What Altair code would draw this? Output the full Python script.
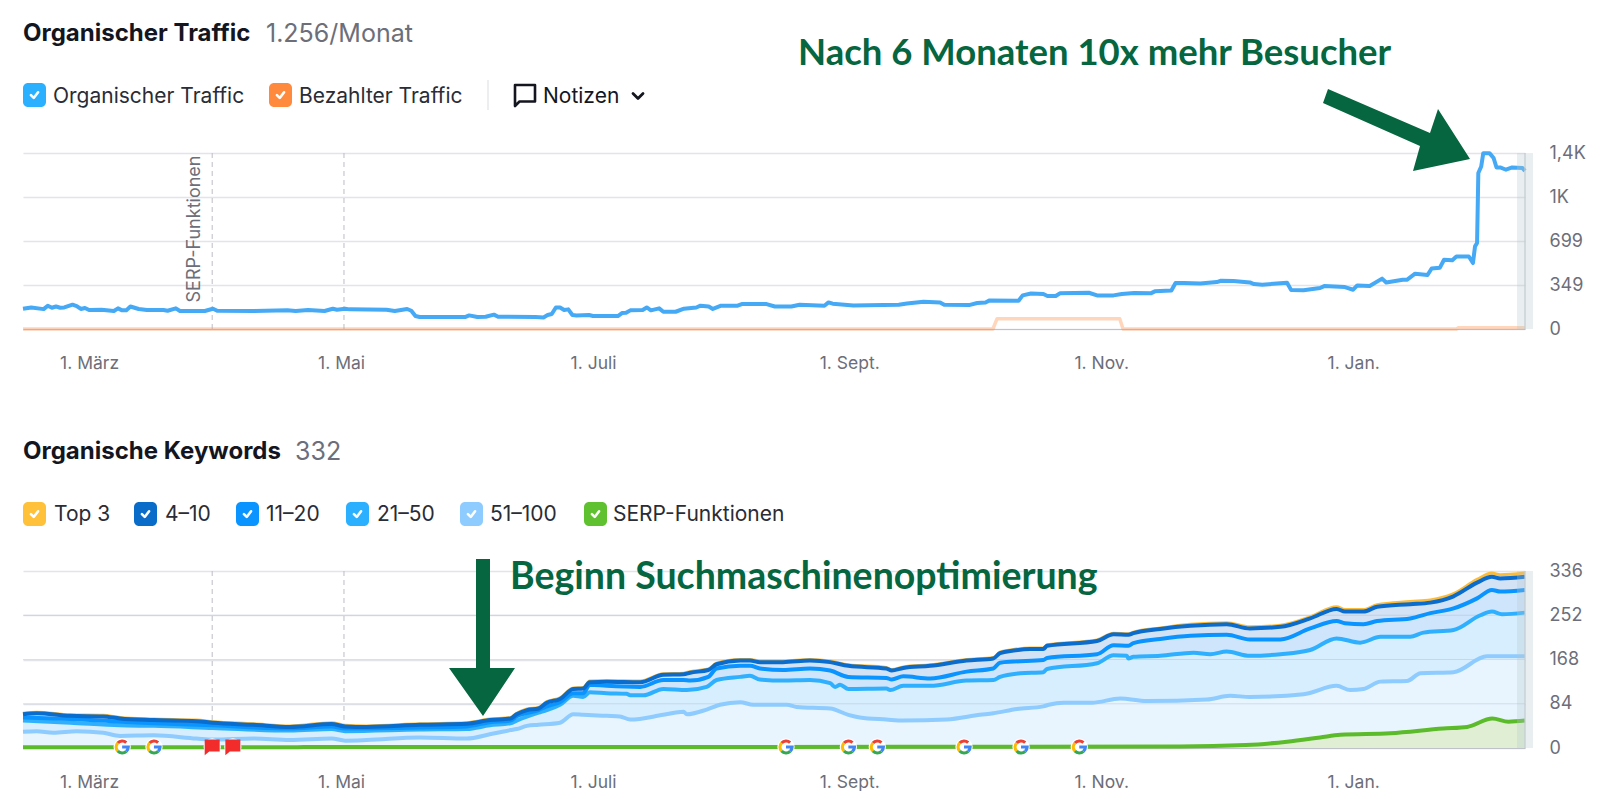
import altair as alt
import pandas as pd

START = pd.Timestamp("2021-02-13")
DOMAIN_END = 363.6

def dates(days):
    return [(START + pd.Timedelta(days=d)).isoformat() for d in days]

# ---- axis labels -------------------------------------------------------
month_days = [16, 77, 138, 200, 261, 322]
month_labels = ["1. März", "1. Mai", "1. Juli", "1. Sept.", "1. Nov.", "1. Jan."]
traffic_ticks = [0, 349, 699, 1048, 1398]
traffic_tick_labels = ["0", "349", "699", "1K", "1,4K"]
keyword_ticks = [0, 84, 168, 252, 336]
keyword_tick_labels = ["0", "84", "168", "252", "336"]
note_days = [45.8, 77.7]

# ---- traffic series ----------------------------------------------------
organic_days = [0, 2, 5, 6, 7, 8, 9, 10, 12, 13, 14, 15, 16, 19, 22, 23, 24, 25, 26, 28, 30, 34, 35, 37, 38, 44, 46, 47,
                56, 64, 66, 69, 73, 75, 76, 78, 79, 88, 90, 93, 94, 95, 96, 107, 108, 110, 112, 114, 115, 124, 126, 127,
                128, 129, 130, 131, 132, 133, 134, 137, 138, 144, 145, 146, 147, 150, 151, 152, 154, 155, 158, 160, 163,
                164, 166, 167, 169, 173, 174, 180, 182, 186, 188, 194, 195, 196, 201, 212, 214, 218, 222, 223, 229, 231,
                233, 234, 241, 242, 244, 247, 248, 250, 251, 258, 260, 264, 266, 269, 273, 274, 278, 279, 281, 285, 289,
                290, 293, 297, 298, 300, 306, 307, 310, 314, 315, 320, 322, 323, 326, 329, 330, 334, 335, 337, 340, 341,
                343, 344, 346, 347, 350, 351, 351.5, 352, 352.3, 353, 353.5, 355, 356, 356.7, 357.6, 359, 360.5, 363, 363.6]
organic_vals = [161, 171, 158, 185, 169, 179, 169, 171, 193, 182, 159, 167, 151, 153, 143, 164, 148, 148, 179, 159, 151, 151, 145, 164, 143, 143, 161, 145,
                143, 148, 143, 151, 143, 161, 153, 161, 156, 153, 143, 159, 145, 103, 95, 95, 108, 95, 97, 114, 97, 95, 92, 111,
                119, 171, 171, 151, 156, 111, 108, 111, 103, 103, 127, 129, 148, 151, 171, 148, 164, 137, 137, 161, 171,
                185, 179, 159, 185, 185, 198, 198, 179, 179, 193, 185, 211, 201, 187, 193, 203, 217, 211, 193, 190, 206,
                211, 227, 225, 267, 282, 278, 262, 262, 283, 288, 267, 267, 278, 286, 283, 299, 306, 365, 365, 362, 373,
                383, 381, 370, 357, 352, 368, 309, 308, 326, 341, 333, 312, 346, 342, 400, 370, 391, 391, 439, 429, 481,
                487, 550, 546, 576, 576, 524, 656, 683, 1239, 1291, 1397, 1397, 1358, 1283, 1283, 1265, 1283, 1278, 1256]
paid_days = [0, 234.8, 235.8, 265.5, 266.3, 347, 347.5, 363.6]
paid_vals = [0, 0, 82, 82, 0, 0, 10, 10]

# ---- keyword series ----------------------------------------------------
k4_days = [0, 3.3, 11.4, 19.4, 23.5, 31.6, 42, 46, 55.8, 64.6, 74.7, 78, 83.2, 96, 107.4, 113, 118, 119.5, 122, 124.8,
           126.8, 130, 133.2, 135.6, 137.2, 141.3, 149.4, 155, 159.9, 161.5, 165.9, 167.9, 173.6, 176, 178.4, 184, 190.5, 195.4, 199.8,
           209, 210.3, 213.1, 219.6, 228.4, 234.9, 236.5, 239.8, 243.8, 247, 247.9, 260, 264, 267.6, 268.8, 275.3, 282.6, 291.4, 297,
           304.4, 311.6, 318, 320, 324.5, 327.8, 335.8, 340.7, 346.3, 352, 355.6, 357.6, 363.6]
top3_vals = [66, 68, 63, 62, 58, 55, 53, 50, 46, 42, 48, 43, 42, 46, 48, 55, 58, 66, 74, 77,
             88, 95, 114, 115, 127, 128, 127, 141, 142, 145, 150, 161, 168, 168, 165, 165, 168, 165, 158,
             153, 149, 154, 158, 168, 172, 182, 187, 190, 190, 196, 205, 218, 217, 220, 228, 235, 238, 230,
             233, 249, 268, 263, 263, 272, 278, 281, 293, 320, 332, 329, 332]
k4_vals = [64, 66, 61, 60, 56, 53, 51, 48, 44, 40, 45.6, 41, 40, 44, 46, 53, 56, 64, 72, 75,
           86, 93, 112, 113, 125, 126, 125, 139, 140, 143, 148, 159, 166, 166, 163, 163, 166, 163, 156,
           151, 147, 152, 156, 166, 170, 180, 185, 188, 188, 194, 203, 216, 215, 218, 226, 232, 235, 227,
           230, 246, 264, 259, 259, 268, 273, 276, 288, 314, 325, 322, 325]
k11_days = [0, 11.4, 23.5, 31.6, 46, 64.6, 74.7, 78, 96, 107.4, 113, 118, 119.5, 124.8, 126.8, 130, 133.2, 135.6, 137.2, 141.3,
            149.4, 155, 159.9, 161.5, 165.9, 167.9, 173.6, 176, 178.4, 184, 190.5, 195.4, 199.8, 209, 210.3, 213.1, 219.6, 228.4,
            234.9, 236.5, 239.8, 247, 247.9, 260, 264, 267.6, 268.8, 275.3, 282.6, 291.4, 297, 304.4, 311.6, 318, 320, 324.5,
            327.8, 335.8, 340.7, 346.3, 352, 355.6, 357.6, 363.6]
k11_vals = [58, 55, 50, 47, 43, 37, 41, 37, 39, 41, 49, 52, 60, 72, 79, 87, 104, 104, 120, 118,
            116, 129, 129, 128, 135, 151, 156, 156, 151, 148, 151, 147, 135, 133, 130, 136, 132, 145,
            151, 162, 164, 167, 171, 178, 195, 194, 199, 207, 213, 215, 206, 206, 227, 241, 237, 235,
            241, 246, 256, 265, 284, 300, 297, 300]
k21_days = [0, 11.4, 23.5, 31.6, 46, 64.6, 74.7, 78, 96, 107.4, 113, 118, 119.5, 124.8, 126.8, 130, 133.2, 135.6, 137.2, 141.3,
            146.1, 147, 150.2, 155, 160.7, 165.5, 167.9, 173.6, 176, 178.4, 184, 190.5, 195.4, 196.6, 197.8, 199.8, 209, 209.9, 213.1,
            219.6, 228.4, 234.9, 236.5, 241.4, 247, 247.9, 260, 264, 267.2, 267.6, 268.8, 275.3, 283.4, 287.4, 291.4, 297, 304.4,
            311.6, 318, 323.7, 328.6, 335.8, 339, 346.3, 352.8, 355.6, 358, 363.6]
k21_vals = [52, 48, 43, 42, 38, 33, 36, 32, 35, 36, 43, 47, 52, 67, 72, 82, 99, 97, 106, 104,
            103, 100, 100, 112, 110, 116, 129, 135, 137, 130, 128, 129, 123, 116, 120, 112, 113, 110, 118,
            118, 128, 129, 135, 142, 144, 150, 161, 176, 175, 170, 173, 175, 181, 178, 183, 175, 178,
            186, 208, 200, 211, 211, 219, 224, 252, 259, 254, 257]
k51_days = [0, 3.3, 7.3, 13, 19.4, 23.5, 31.6, 42, 46, 55.8, 64.6, 74.7, 78, 83.2, 96, 107.4, 113, 118, 119.5, 122, 124.8,
            130, 133.2, 135.6, 141.3, 144.5, 147, 155, 159.9, 160.7, 165.5, 168.7, 173.6, 176.8, 184.9, 187.3, 195.4, 199.8, 202.6,
            209, 213.1, 223.6, 231.7, 234.9, 240.6, 247, 248.3, 251.9, 258.8, 265.6, 272, 286.6, 292.2, 297, 310, 318, 321.3, 324.5,
            328.6, 335, 338.3, 346.3, 354.4, 363.6]
k51_vals = [31, 32, 29, 32, 29, 23, 24, 18, 16, 18, 15, 18, 14, 15, 20, 18, 26, 34, 36, 42, 44,
            48, 64, 63, 61, 60, 54, 63, 69, 64, 73, 82, 87, 82, 82, 78, 75, 63, 58,
            54, 52, 54, 63, 66, 74, 79, 82, 86, 86, 94, 89, 92, 99, 97, 102, 118, 110, 112,
            126, 127, 142, 144, 174, 174]
serp_days = [0, 65, 68, 173, 241, 280, 296, 306, 314, 318.9, 331, 343.8, 349.6, 355.7, 359.6, 363.6]
serp_vals = [1.3, 1.3, 2, 2, 2.5, 2.7, 5.5, 12, 20, 25, 28, 37, 40, 56, 50, 52]
google_days = [24, 31.7, 184.7, 199.8, 206.8, 227.8, 241.6, 255.7]
flag_days = [45.8, 50.8]

# ---- styles ------------------------------------------------------------
GREEN_TXT = "#05663f"
GRAY_TXT = "#6c6e79"
DARK_TXT = "#14161f"
FONT = "Inter"
W, H1, H2 = 1502, 176, 177
X0, Y1, Y2 = 23, 153, 571

x_scale = alt.Scale(domain=[dates([0])[0], dates([DOMAIN_END])[0]])
x_axis = alt.Axis(
    values=dates(month_days), labelExpr=f"{month_labels}[round(datum.index*5)]", title=None, grid=False,
    ticks=False, domain=True, domainColor="#bfc3c9", domainWidth=1, labelColor=GRAY_TXT, labelFont=FONT,
    labelFontSize=17.5, labelPadding=25, labelAlign="center", labelOverlap=False, labelFlush=False,
)

def y_scale(ticks):
    return alt.Scale(domain=[ticks[0], ticks[-1]], nice=False)

def y_enc(ticks, labels):
    return alt.Y(
        "v:Q", title=None,
        scale=y_scale(ticks),
        axis=alt.Axis(
            orient="right", values=ticks, labelExpr=f"{labels}[round(datum.index*4)]", grid=True,
            gridColor="#e3e4ea", gridWidth=1.6, ticks=False, domain=False, labelColor=GRAY_TXT, labelFont=FONT,
            labelFontSize=18, labelPadding=24, labelAlign="left", labelBaseline="middle", labelOverlap=False, labelFlush=False,
        ),
    )

def frame(days, vals):
    return pd.DataFrame({"d": dates(days), "v": vals})

def line(days, vals, color, y, width=4, opacity=1.0, interp="monotone"):
    return alt.Chart(frame(days, vals)).mark_line(color=color, strokeWidth=width, opacity=opacity, interpolate=interp, strokeJoin="round", clip=False).encode(
        x=alt.X("d:T", scale=x_scale, axis=x_axis), y=y)

def area(days, vals, color, y):
    return alt.Chart(frame(days, vals)).mark_area(color=color, opacity=1, interpolate="monotone").encode(
        x=alt.X("d:T", scale=x_scale, axis=x_axis), y=y)

ONE = pd.DataFrame({"t": [""]})

def text(s, X, Y, oy, size, color, weight=400, font=FONT, angle=None, align="left"):
    kw = {"angle": angle} if angle is not None else {}
    return alt.Chart(pd.DataFrame({"t": [s]})).mark_text(
        font=font, fontSize=size, color=color, fontWeight=weight, align=align, baseline="middle", **kw
    ).encode(x=alt.value(X - X0), y=alt.value(Y - oy), text="t:N")

def polygon(points, oy, color):
    path = "M" + " L".join(f"{x - X0},{y - oy}" for x, y in points) + " Z"
    return alt.Chart(ONE).mark_point(shape=path, filled=True, fill=color, size=4, opacity=1, strokeWidth=0).encode(
        x=alt.value(0), y=alt.value(0))

def stroke_path(path, X, Y, oy, size, color, width):
    return alt.Chart(ONE).mark_point(shape=path, filled=False, size=size, stroke=color, strokeWidth=width, opacity=1, strokeCap="round", strokeJoin="round").encode(
        x=alt.value(X - X0), y=alt.value(Y - oy))

def checkbox(color, X, Yc, oy):
    box = alt.Chart(ONE).mark_rect(color=color, cornerRadius=5).encode(
        x=alt.value(X - X0), x2=alt.value(X + 23 - X0), y=alt.value(Yc - 12 - oy), y2=alt.value(Yc + 12 - oy))
    tick = stroke_path("M-0.55,0.02 L-0.12,0.45 L0.55,-0.42", X + 11.5, Yc, oy, 170, "#ffffff", 2.6)
    return box + tick

def shadow(h):
    band = alt.Chart(ONE).mark_rect(color="#b5c6ce", opacity=0.3).encode(
        x=alt.value(1517 - X0), x2=alt.value(1533 - X0), y=alt.value(0), y2=alt.value(h))
    edge = alt.Chart(ONE).mark_rule(color="#c3cbd0", strokeWidth=1.2).encode(
        x=alt.value(W), y=alt.value(0), y2=alt.value(h))
    return band + edge

def note_rules(h):
    return alt.Chart(pd.DataFrame({"d": dates(note_days)})).mark_rule(
        color="#bcbec6", strokeWidth=1, strokeDash=[5, 4]).encode(
        x=alt.X("d:T", scale=x_scale, axis=x_axis), y=alt.value(0), y2=alt.value(h))

# ---- panel 1 -----------------------------------------------------------
y1 = y_enc(traffic_ticks, traffic_tick_labels)
anchor = alt.Chart(ONE).mark_rule(opacity=0, strokeWidth=0).encode(
    x=alt.value(8 - X0), x2=alt.value(20 - X0), y=alt.value(8 - Y1))

legend_top = [("Organischer Traffic", "#2bb0ff", 23, 53), ("Bezahlter Traffic", "#ff8a3d", 269, 299)]
parts1 = [anchor, note_rules(H1), line(organic_days, organic_vals, "#45a9f5", y1, interp="linear"),
          line(paid_days, paid_vals, "#ff8a3d", y1, width=3.5, opacity=0.35, interp="linear"),
          text("SERP-Funktionen", 195, 229, Y1, 18, GRAY_TXT, angle=270, align="center"),
          shadow(H1),
          text("Organischer Traffic", 23, 34, Y1, 24, DARK_TXT, 700),
          text("1.256/Monat", 266, 34, Y1, 25, GRAY_TXT),
          text("Notizen", 543, 97, Y1, 21, DARK_TXT),
          alt.Chart(ONE).mark_rule(color="#dcdde2", strokeWidth=1).encode(
              x=alt.value(488 - X0), y=alt.value(80 - Y1), y2=alt.value(110 - Y1)),
          stroke_path("M-1,-1 L1,-1 L1,0.65 L-0.55,0.65 L-1,1.1 Z", 525, 95, Y1, 400, DARK_TXT, 2.6),
          stroke_path("M-1,-0.5 L0,0.5 L1,-0.5", 638, 96, Y1, 100, DARK_TXT, 2.8),
          text("Nach 6 Monaten 10x mehr Besucher", 798, 54, Y1, 36.5, GREEN_TXT, 700, "Lato"),
          polygon([(1328, 89), (1323, 103), (1420, 146), (1413, 171), (1470, 159), (1438, 109), (1430, 133)], Y1, GREEN_TXT)]
for label, color, bx, tx in legend_top:
    parts1 += [checkbox(color, bx, 95, Y1), text(label, tx, 97, Y1, 21, "#2a2c36")]
panel1 = alt.layer(*parts1).properties(width=W, height=H1)

# ---- panel 2 -----------------------------------------------------------
y2 = y_enc(keyword_ticks, keyword_tick_labels)
grid_over = alt.Chart(pd.DataFrame({"v": keyword_ticks[1:4]})).mark_rule(color="#9aa6b8", strokeWidth=1, opacity=0.3).encode(
    y=y2, x=alt.value(0), x2=alt.value(W))

def marker_chart(days):
    return alt.Chart(pd.DataFrame({"d": dates(days)}))

def at_x():
    return alt.X("d:T", scale=x_scale, axis=x_axis)

halo = marker_chart(google_days + flag_days).mark_point(shape="circle", filled=True, fill="#ffffff", size=300, opacity=1, strokeWidth=0).encode(
    x=at_x(), y=alt.value(H2 - 1))
g_parts = []
for path, color in [("M-0.55,-0.5 A0.75,0.75 0 0 1 0.52,-0.55", "#ea4335"), ("M-0.55,0.5 A0.75,0.75 0 0 1 -0.55,-0.5", "#fbbc05"),
                    ("M0.52,0.55 A0.75,0.75 0 0 1 -0.55,0.5", "#34a853"), ("M0,0 L0.76,0 A0.75,0.75 0 0 1 0.52,0.55", "#4285f4")]:
    g_parts.append(marker_chart(google_days).mark_point(shape=path, filled=False, stroke=color, strokeWidth=3.2, size=256, opacity=1).encode(
        x=at_x(), y=alt.value(H2 - 1)))
flags = marker_chart(flag_days).mark_point(shape="M-1,-1 L1,-1 L1,0.6 L-0.4,0.6 L-1,1.1 Z", filled=True, fill="#f22b2b", size=225, opacity=1, strokeWidth=0).encode(
    x=at_x(), y=alt.value(H2 - 1))

parts2 = [note_rules(H2),
          area(k4_days, top3_vals, "#d4e2f6", y2), area(k11_days, k11_vals, "#cfe5fc", y2),
          area(k21_days, k21_vals, "#d7eefe", y2), area(k51_days, k51_vals, "#e8f5fe", y2),
          area(serp_days, serp_vals, "#e0efd4", y2), grid_over,
          line(k4_days, top3_vals, "#fdbb3a", y2, width=3),
          line(k51_days, k51_vals, "#8ecbff", y2), line(k21_days, k21_vals, "#2fb0ff", y2),
          line(k11_days, k11_vals, "#0a94ff", y2), line(k4_days, k4_vals, "#0a6ccc", y2),
          line(serp_days, serp_vals, "#5cbb2a", y2, width=4),
          shadow(H2), halo, *g_parts, flags,
          text("Organische Keywords", 23, 452, Y2, 24, DARK_TXT, 700),
          text("332", 295, 452, Y2, 25, GRAY_TXT),
          text("Beginn Suchmaschinenoptimierung", 510, 578, Y2, 37.5, GREEN_TXT, 700, "Lato"),
          polygon([(476, 559), (490, 559), (490, 668), (515, 668), (483, 716), (449, 668), (476, 668)], Y2, GREEN_TXT)]
legend_bottom = [("Top 3", "#ffc13a", 23, 54), ("4–10", "#0a6cc9", 134, 165), ("11–20", "#0a94ff", 236, 266),
                 ("21–50", "#2bb0ff", 346, 377), ("51–100", "#8ecbff", 460, 490), ("SERP-Funktionen", "#5fc12f", 584, 613)]
for label, color, bx, tx in legend_bottom:
    parts2 += [checkbox(color, bx, 514, Y2), text(label, tx, 515, Y2, 21, "#2a2c36")]
panel2 = alt.layer(*parts2).properties(width=W, height=H2)

chart = alt.vconcat(panel1, panel2, spacing=Y2 - Y1 - H1, bounds="flush").properties(padding=0).configure_view(stroke=None)
chart.save("out.html", embed_options={"renderer": "svg", "actions": False})
